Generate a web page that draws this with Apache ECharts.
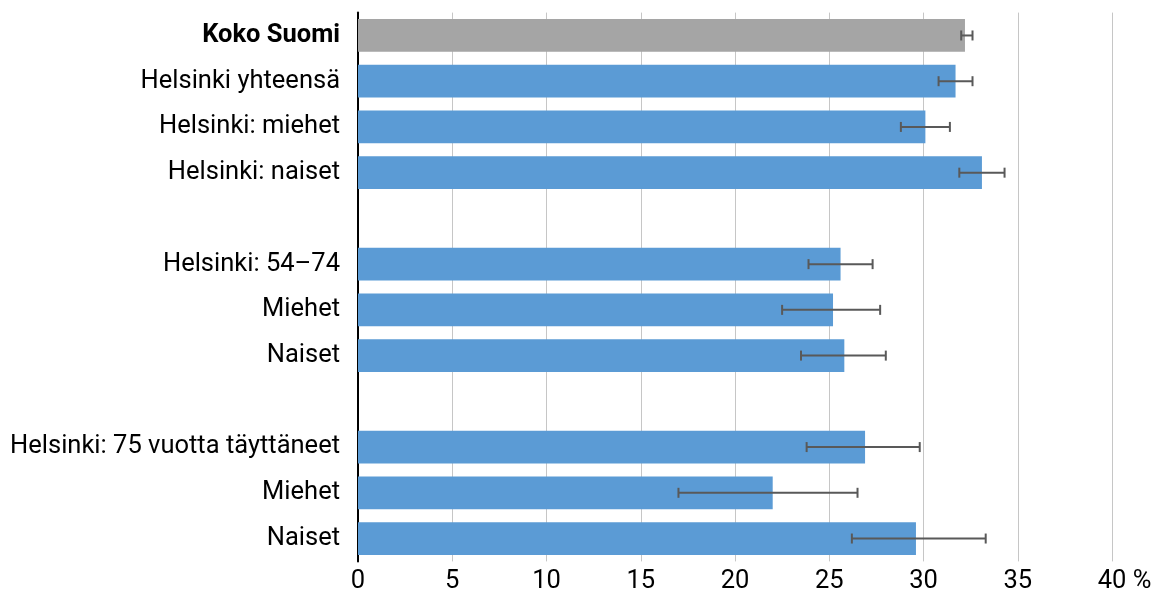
<!DOCTYPE html>
<html>
<head>
<meta charset="utf-8">
<script src="https://cdn.jsdelivr.net/npm/echarts@6/dist/echarts.min.js"></script>
<style>
html,body{margin:0;padding:0;background:#fff;}
#chart{width:1153px;height:594px;}
</style>
</head>
<body>
<div id="chart"></div>
<script>
const categories = ['Koko Suomi', 'Helsinki yhteensä', 'Helsinki: miehet', 'Helsinki: naiset', '',
  'Helsinki: 54–74', 'Miehet', 'Naiset', '',
  'Helsinki: 75 vuotta täyttäneet', 'Miehet', 'Naiset'];
const values = [32.2, 31.7, 30.1, 33.1, null, 25.6, 25.2, 25.8, null, 26.9, 22.0, 29.6];
const lows   = [32.0, 30.8, 28.8, 31.9, null, 23.9, 22.5, 23.5, null, 23.8, 17.0, 26.2];
const highs  = [32.6, 32.6, 31.4, 34.3, null, 27.3, 27.7, 28.0, null, 29.8, 26.5, 33.3];
const xTicks = [0, 5, 10, 15, 20, 25, 30, 35, 40];

const BLUE = '#5B9BD5';
const GRAY = '#A5A5A5';
const FONT = 'Roboto';
const FS = 25.5;

const barData = values.map((v, i) => ({
  value: v,
  itemStyle: { color: i === 0 ? GRAY : BLUE }
}));
const errData = [];
lows.forEach((l, i) => { if (l != null) errData.push([i, l, highs[i]]); });

const chart = echarts.init(document.getElementById('chart'), null, { renderer: 'canvas' });
chart.setOption({
  animation: false,
  grid: { left: 358, right: 41, top: 12.6, bottom: 32.6, containLabel: false, outerBoundsMode: 'none' },
  xAxis: {
    type: 'value',
    min: xTicks[0], max: xTicks[xTicks.length - 1], interval: 5,
    axisLine: { show: false },
    axisTick: { show: false },
    splitLine: { show: true, lineStyle: { color: '#c6c6c6', width: 1 } },
    axisLabel: {
      margin: 7,
      fontFamily: FONT, fontSize: FS, color: '#000',
      formatter: v => v === 40 ? '{p|}{n|40 %}' : String(v),
      rich: { p: { width: 25, fontSize: FS }, n: { fontFamily: FONT, fontSize: FS, color: '#000' } }
    }
  },
  yAxis: {
    type: 'category',
    inverse: true,
    data: categories,
    axisLine: { show: true, lineStyle: { color: '#000', width: 2 } },
    axisTick: { show: false },
    splitLine: { show: false },
    axisLabel: {
      margin: 18,
      fontFamily: FONT, fontSize: FS, color: '#000',
      formatter: (v, i) => i === 0 ? '{b|' + v + '}' : v,
      rich: { b: { fontFamily: FONT, fontSize: FS, fontWeight: 'bold', color: '#000' } }
    }
  },
  series: [
    {
      type: 'bar',
      data: barData,
      barCategoryGap: '28.5%',
      z: 2
    },
    {
      type: 'custom',
      z: 5,
      data: errData,
      renderItem: function (params, api) {
        const idx = api.value(0);
        const lo = api.coord([api.value(1), idx]);
        const hi = api.coord([api.value(2), idx]);
        const y = lo[1];
        const h = 5;
        const style = { stroke: '#595959', lineWidth: 2 };
        return {
          type: 'group',
          children: [
            { type: 'line', shape: { x1: lo[0], y1: y, x2: hi[0], y2: y }, style },
            { type: 'line', shape: { x1: lo[0], y1: y - h, x2: lo[0], y2: y + h }, style },
            { type: 'line', shape: { x1: hi[0], y1: y - h, x2: hi[0], y2: y + h }, style }
          ]
        };
      }
    }
  ]
});
</script>
</body>
</html>
